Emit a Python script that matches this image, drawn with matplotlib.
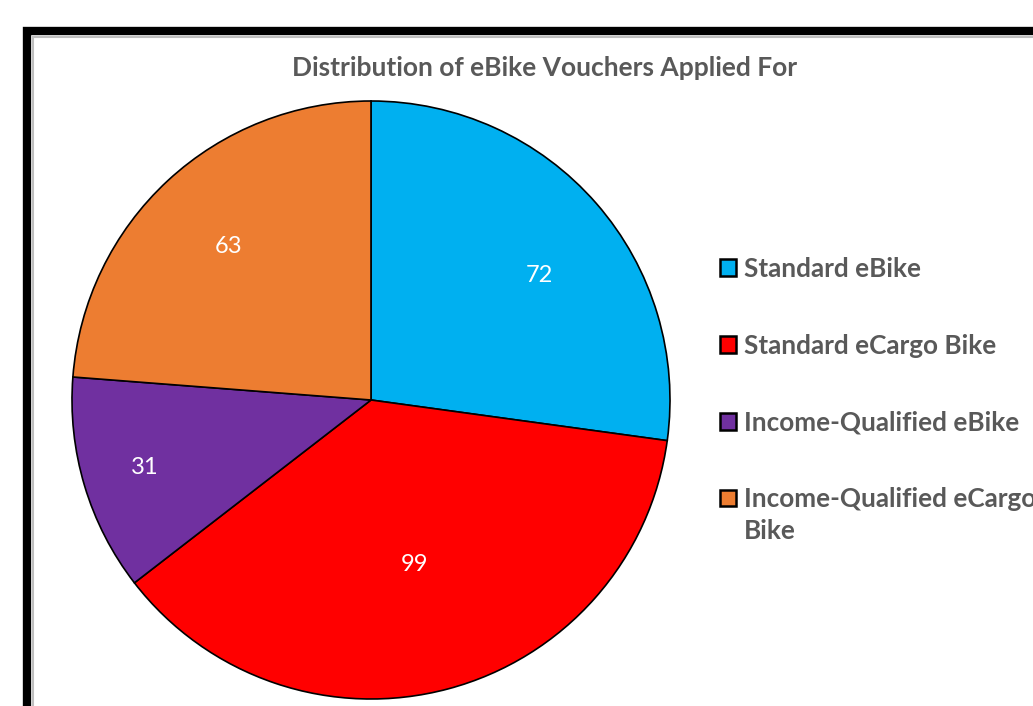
import numpy as np
import matplotlib.pyplot as plt
from matplotlib.patches import Rectangle

categories = ["Standard eBike", "Standard eCargo Bike",
              "Income-Qualified eBike", "Income-Qualified eCargo\nBike"]
values = [72, 99, 31, 63]
colors = ["#00B0F0", "#FF0000", "#7030A0", "#ED7D31"]
label_frac = [0.70, 0.57, 0.79, 0.70]  # radial position of value labels
label_turn = [-4.5, 0, 0, 0]           # small angular nudge (deg)

W, H = 1033, 706
plt.rcParams['font.family'] = ['Lato', 'DejaVu Sans']
fig = plt.figure(figsize=(W / 100, H / 100), dpi=100)
ax = fig.add_axes([0, 0, 1, 1])

cx, cy, r = 371, H - 400, 299
wedges, _ = ax.pie(values, colors=colors, startangle=90, counterclock=False,
                   center=(cx, cy), radius=r, frame=True,
                   wedgeprops=dict(edgecolor='black', linewidth=1.2))
ax.set_xlim(0, W)
ax.set_ylim(0, H)
ax.axis('off')

for w, v, f, t in zip(wedges, values, label_frac, label_turn):
    mid = np.deg2rad((w.theta1 + w.theta2) / 2 + t)
    ax.text(cx + f * r * np.cos(mid), cy + f * r * np.sin(mid), str(v),
            ha='center', va='center', color='white', fontsize=17)

ax.text(545, H - 68, "Distribution of eBike Vouchers Applied For",
        ha='center', va='center', color='#595959', fontsize=19,
        fontweight='bold')

leg = ax.legend(wedges, categories, loc='upper left',
                bbox_to_anchor=(720 / W, 1 - 257 / H), frameon=False,
                handlelength=0.62, handleheight=0.62, handletextpad=0.3,
                labelspacing=2.02, prop=dict(size=18.8, weight='bold'),
                labelcolor='#595959', borderpad=0, borderaxespad=0)
for h in leg.legend_handles:
    h.set_linewidth(1.8)
leg.get_texts()[-1].set_linespacing(1.4)
# align last marker with the first line of its wrapped label
leg.legend_handles[-1].set_y(leg.legend_handles[-1].get_y() + 13)

# outer frame
fig.patches.append(Rectangle((27, -20), W + 40, H - 31 + 20, transform=None,
                             fill=False, edgecolor='black', linewidth=6))
fig.patches.append(Rectangle((32.5, -20), W + 40, H - 36.5 + 20, transform=None,
                             fill=False, edgecolor='#BFBFBF', linewidth=1.5))

fig.savefig("out.png", dpi=100)
